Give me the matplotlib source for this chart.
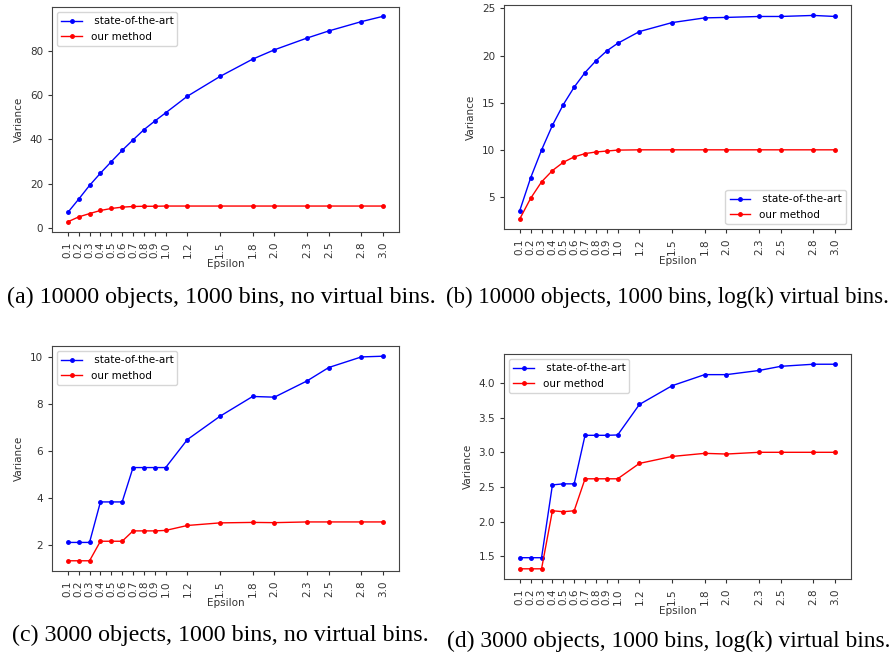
import matplotlib.pyplot as plt

# epsilon values shared by all panels
eps = [0.1, 0.2, 0.3, 0.4, 0.5, 0.6, 0.7, 0.8, 0.9, 1.0,
       1.2, 1.5, 1.8, 2.0, 2.3, 2.5, 2.8, 3.0]
eps_labels = ["0.1", "0.2", "0.3", "0.4", "0.5", "0.6", "0.7", "0.8", "0.9", "1.0",
              "1.2", "1.5", "1.8", "2.0", "2.3", "2.5", "2.8", "3.0"]

# (a) 10000 objects, no virtual bins
sota_a = [7.1, 13.1, 19.3, 24.8, 30.0, 35.1, 39.8, 44.4, 48.3, 52.0,
          59.5, 68.4, 76.2, 80.4, 85.7, 88.9, 93.1, 95.5]
ours_a = [2.9, 5.1, 6.6, 8.0, 8.9, 9.5, 9.8, 9.9, 9.9, 10.0,
          10.0, 10.0, 10.0, 10.0, 10.0, 10.0, 10.0, 10.0]

# (b) 10000 objects, log(k) virtual bins
sota_b = [3.56, 7.04, 9.98, 12.6, 14.8, 16.65, 18.2, 19.45, 20.5, 21.3,
          22.55, 23.5, 24.0, 24.05, 24.15, 24.15, 24.26, 24.15]
ours_b = [2.68, 4.86, 6.6, 7.8, 8.68, 9.25, 9.6, 9.77, 9.87, 9.97,
          10.0, 10.0, 10.0, 10.0, 10.0, 10.0, 10.0, 10.0]

# (c) 3000 objects, no virtual bins
sota_c = [2.13, 2.13, 2.13, 3.85, 3.85, 3.85, 5.31, 5.31, 5.31, 5.31,
          6.5, 7.49, 8.33, 8.30, 8.99, 9.56, 10.01, 10.04]
ours_c = [1.35, 1.35, 1.35, 2.18, 2.18, 2.18, 2.62, 2.62, 2.62, 2.64,
          2.85, 2.96, 2.98, 2.97, 3.0, 3.0, 3.0, 3.0]

# (d) 3000 objects, log(k) virtual bins
sota_d = [1.48, 1.48, 1.48, 2.53, 2.545, 2.545, 3.245, 3.245, 3.245, 3.25,
          3.69, 3.96, 4.12, 4.12, 4.18, 4.24, 4.27, 4.27]
ours_d = [1.32, 1.32, 1.32, 2.157, 2.143, 2.157, 2.618, 2.618, 2.618, 2.618,
          2.84, 2.94, 2.985, 2.975, 3.0, 3.0, 3.0, 3.0]

captions = ["(a) 10000 objects, 1000 bins, no virtual bins.",
            "(b) 10000 objects, 1000 bins, log(k) virtual bins.",
            "(c) 3000 objects, 1000 bins, no virtual bins.",
            "(d) 3000 objects, 1000 bins, log(k) virtual bins."]

fig = plt.figure(figsize=(8.94, 6.58), dpi=100)

panels = [
    ([0.0582, 0.6474, 0.388, 0.342], sota_a, ours_a, "upper left", (-1.7, 99.7)),
    ([0.5638, 0.6520, 0.388, 0.340], sota_b, ours_b, "lower right", None),
    ([0.0582, 0.1322, 0.388, 0.342], sota_c, ours_c, "upper left", None),
    ([0.5638, 0.1200, 0.388, 0.342], sota_d, ours_d, "upper left", None),
]

for rect, sota, ours, loc, ylim in panels:
    ax = fig.add_axes(rect)
    ax.plot(eps, sota, "b.-", linewidth=1, markersize=5, label=" state-of-the-art")
    ax.plot(eps, ours, "r.-", linewidth=1, markersize=5, label="our method")
    if ylim:
        ax.set_ylim(*ylim)
    ax.set_xticks(eps)
    ax.set_xticklabels(eps_labels, rotation=90)
    ax.tick_params(labelsize=7.5, length=3, colors="#333333")
    for sp in ax.spines.values():
        sp.set_color("#444444")
    ax.set_xlabel("Epsilon", fontsize=7.5, labelpad=1, color="#333333")
    ax.set_ylabel("Variance", fontsize=7.5, color="#333333")
    ax.legend(loc=loc, fontsize=7.5)

serif = ["Liberation Serif", "DejaVu Serif"]
fig.text(0.2472, 1 - 297 / 658, captions[0], ha="center", va="center", fontsize=17.3, family=serif)
fig.text(0.7466, 1 - 297 / 658, captions[1], ha="center", va="center", fontsize=16.5, family=serif)
fig.text(0.2461, 1 - 635 / 658, captions[2], ha="center", va="center", fontsize=17.3, family=serif)
fig.text(0.7477, 1 - 641 / 658, captions[3], ha="center", va="center", fontsize=16.9, family=serif)

fig.savefig("out.png", dpi=100)
